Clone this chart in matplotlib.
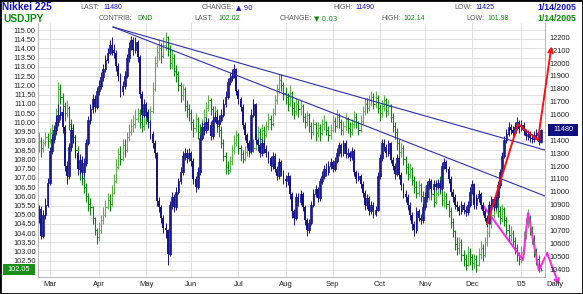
import numpy as np
import pandas as pd
import matplotlib
matplotlib.use('Agg')
import matplotlib.pyplot as plt
from matplotlib.patches import Rectangle
from matplotlib.transforms import ScaledTranslation

plt.rcParams['font.family'] = ['Liberation Sans', 'DejaVu Sans']

# ---- USD/JPY daily bars (left scale), 2004-02-23 .. 2005-01-14 ----
jpy_open0 = 108.8
jpy_close = [
    109.0, 108.6, 108.9, 109.2, 109.0, 109.4, 109.6, 109.3, 110.6, 111.8,
    111.4, 110.9, 110.5, 110.8, 109.9, 109.7, 109.2, 108.5, 107.9, 107.3,
    107.0, 106.5, 106.0, 105.6, 105.4, 104.8, 104.2, 103.8, 104.2, 104.7,
    105.0, 105.4, 105.8, 105.6, 106.2, 106.8, 107.6, 108.3, 108.0, 108.8,
    108.5, 109.2, 109.5, 109.8, 109.9, 110.2, 110.5, 110.0, 109.8, 110.4,
    110.3, 110.0, 110.6, 111.8, 113.2, 113.8, 114.0, 113.6, 114.2, 114.6,
    114.0, 113.2, 113.5, 112.8, 112.6, 112.0, 111.5, 111.8, 110.9, 110.7,
    110.5, 110.0, 109.7, 110.2, 109.5, 109.4, 109.9, 110.3, 110.8, 111.2,
    110.7, 110.2, 110.6, 109.8, 109.6, 108.9, 108.2, 107.6, 107.4, 107.9,
    108.5, 108.9, 109.3, 108.6, 108.3, 108.0, 108.4, 108.7, 108.4, 108.9,
    108.6, 109.0, 109.5, 109.1, 109.6, 109.3, 109.8, 110.2, 109.9, 110.5,
    111.2, 111.8, 112.3, 112.0, 111.6, 111.4, 111.0, 111.6, 110.8, 110.6,
    111.0, 110.7, 110.9, 110.3, 110.0, 110.4, 109.8, 109.5, 109.9, 109.4,
    109.7, 109.4, 109.9, 110.0, 109.6, 109.3, 109.6, 110.1, 109.8, 110.3,
    110.0, 109.6, 109.8, 110.2, 109.7, 109.5, 109.9, 110.3, 110.0, 109.6,
    110.1, 110.6, 111.0, 110.8, 111.2, 111.4, 111.0, 111.3, 110.8, 110.5,
    110.9, 111.2, 110.6, 110.9, 110.3, 109.8, 109.5, 108.9, 108.4, 108.6,
    108.0, 107.6, 107.2, 107.5, 106.9, 106.5, 106.2, 106.6, 106.0, 105.8,
    106.3, 106.0, 106.5, 106.1, 105.7, 106.2, 106.6, 106.4, 105.8, 106.0,
    105.6, 105.2, 104.6, 104.1, 103.4, 103.2, 103.5, 102.8, 102.6, 102.3,
    103.0, 102.7, 102.4, 102.6, 102.3, 102.9, 103.2, 102.8, 103.5, 104.0,
    104.5, 105.0, 105.4, 105.8, 105.2, 104.8, 105.3, 104.7, 104.2, 103.9,
    104.0, 103.6, 103.2, 102.8, 102.6, 103.0, 103.8, 104.5, 104.8, 104.2,
    103.7, 103.0, 102.6, 102.1, 102.02]
jpy_high = [
    109.5, 109.2, 109.1, 109.5, 109.4, 109.7, 109.9, 109.8, 110.8, 112.2,
    112.1, 111.6, 111.1, 111.2, 110.9, 110.2, 109.9, 109.3, 108.7, 108.1,
    107.5, 107.2, 106.7, 106.2, 105.9, 105.5, 104.9, 104.3, 104.6, 105.0,
    105.4, 105.8, 106.2, 106.1, 106.6, 107.2, 108.0, 108.6, 108.7, 109.1,
    109.1, 109.5, 109.9, 110.2, 110.4, 110.7, 110.8, 110.7, 110.3, 110.6,
    110.8, 110.6, 110.9, 112.2, 113.6, 114.2, 114.5, 114.3, 114.6, 114.9,
    114.7, 114.2, 113.9, 113.7, 113.1, 112.8, 112.2, 112.1, 111.9, 111.2,
    111.0, 110.7, 110.2, 110.5, 110.3, 109.9, 110.2, 110.7, 111.1, 111.5,
    111.3, 110.9, 110.9, 110.7, 110.1, 109.8, 109.1, 108.4, 107.9, 108.2,
    108.8, 109.3, 109.6, 109.4, 108.8, 108.5, 108.7, 109.0, 108.9, 109.2,
    109.1, 109.3, 109.8, 109.7, 109.9, 109.8, 110.1, 110.5, 110.4, 110.8,
    111.5, 112.1, 112.6, 112.6, 112.2, 111.9, 111.6, 112.0, 111.7, 111.1,
    111.3, 111.2, 111.2, 111.0, 110.5, 110.6, 110.5, 110.0, 110.2, 110.0,
    110.0, 109.9, 110.2, 110.4, 110.1, 109.8, 109.9, 110.4, 110.3, 110.7,
    110.5, 110.2, 110.1, 110.5, 110.3, 110.0, 110.2, 110.6, 110.5, 110.1,
    110.4, 110.9, 111.3, 111.3, 111.5, 111.7, 111.6, 111.7, 111.5, 111.0,
    111.2, 111.5, 111.3, 111.2, 111.0, 110.5, 110.0, 109.7, 109.1, 108.9,
    108.8, 108.2, 107.8, 107.8, 107.6, 107.1, 106.8, 106.9, 106.7, 106.3,
    106.6, 106.5, 106.8, 106.7, 106.3, 106.5, 106.9, 107.1, 106.6, 106.3,
    106.2, 105.8, 105.4, 104.8, 104.2, 103.8, 103.8, 103.7, 103.1, 102.9,
    103.3, 103.2, 102.9, 102.9, 102.8, 103.2, 103.6, 103.4, 103.8, 104.3,
    104.8, 105.3, 105.7, 106.2, 106.0, 105.5, 105.6, 105.4, 104.9, 104.5,
    104.4, 104.2, 103.8, 103.4, 103.0, 103.3, 104.1, 104.8, 105.3, 105.0,
    104.4, 103.9, 103.2, 102.8, 102.14]
jpy_low = [
    108.4, 108.1, 108.4, 108.7, 108.6, 108.9, 109.1, 109.0, 109.3, 110.5,
    111.0, 110.6, 110.1, 110.3, 109.6, 109.3, 108.9, 108.2, 107.6, 106.9,
    106.6, 106.2, 105.7, 105.2, 105.0, 104.5, 103.9, 103.4, 103.6, 104.0,
    104.5, 104.9, 105.3, 105.2, 105.5, 106.1, 106.7, 107.5, 107.7, 107.9,
    108.1, 108.4, 109.0, 109.3, 109.5, 109.7, 110.0, 109.7, 109.5, 109.6,
    109.9, 109.7, 109.9, 110.5, 111.7, 113.0, 113.4, 113.2, 113.5, 113.9,
    113.6, 112.9, 112.9, 112.5, 112.2, 111.7, 111.1, 111.2, 110.6, 110.3,
    110.1, 109.6, 109.2, 109.5, 109.1, 109.0, 109.2, 109.7, 110.1, 110.6,
    110.4, 109.9, 110.0, 109.5, 109.2, 108.6, 107.9, 107.2, 107.2, 107.3,
    107.7, 108.3, 108.7, 108.3, 107.9, 107.8, 107.9, 108.2, 108.1, 108.3,
    108.4, 108.5, 108.9, 108.8, 109.0, 109.0, 109.2, 109.6, 109.6, 109.8,
    110.4, 111.0, 111.6, 111.7, 111.2, 111.0, 110.6, 110.9, 110.4, 110.2,
    110.4, 110.3, 110.4, 110.0, 109.7, 109.8, 109.5, 109.1, 109.3, 109.0,
    109.2, 109.0, 109.3, 109.6, 109.3, 109.0, 109.1, 109.5, 109.5, 109.7,
    109.7, 109.3, 109.3, 109.6, 109.4, 109.2, 109.3, 109.7, 109.7, 109.3,
    109.5, 109.9, 110.4, 110.5, 110.6, 110.9, 110.7, 110.8, 110.5, 110.1,
    110.3, 110.6, 110.3, 110.4, 110.0, 109.5, 109.1, 108.5, 108.0, 108.1,
    107.7, 107.2, 106.9, 107.0, 106.6, 106.2, 105.9, 106.0, 105.7, 105.5,
    105.6, 105.7, 105.8, 105.8, 105.4, 105.6, 106.0, 106.1, 105.5, 105.4,
    105.3, 104.9, 104.3, 103.8, 103.1, 102.8, 102.9, 102.5, 102.2, 102.0,
    102.2, 102.3, 102.0, 102.1, 101.9, 102.2, 102.6, 102.5, 102.7, 103.3,
    103.8, 104.3, 104.8, 105.1, 104.9, 104.5, 104.6, 104.4, 103.9, 103.6,
    103.6, 103.3, 102.9, 102.5, 102.3, 102.4, 102.9, 103.7, 104.3, 103.9,
    103.4, 102.7, 102.3, 101.9, 101.98]

# ---- Nikkei 225 daily candles (right scale) ----
nk_open0 = 10800
nk_close = [
    10870, 10660, 10820, 10900, 11070, 11320, 11410, 11480, 11540, 11600,
    11620, 11500, 11200, 11120, 11350, 11480, 11420, 11300, 11180, 11250,
    11150, 11220, 11380, 11560, 11640, 11720, 11660, 11780, 11820, 11890,
    11950, 12020, 12080, 12140, 12100, 12080, 11980, 11900, 11780, 11820,
    11900, 12040, 12120, 12180, 12100, 12160, 12050, 11760, 11600, 11680,
    11620, 11540, 11450, 11380, 11300, 10930, 10880, 10800, 10720, 10700,
    10520, 10900, 10960, 10880, 11000, 11080, 11150, 11280, 11300, 11260,
    11300, 11240, 11100, 11040, 11150, 11420, 11500, 11480, 11540, 11520,
    11430, 11560, 11580, 11530, 11560, 11600, 11680, 11740, 11850, 11880,
    11900, 11950, 11780, 11720, 11660, 11520, 11440, 11380, 11320, 11600,
    11680, 11400, 11360, 11300, 11380, 11330, 11300, 11260, 11200, 11280,
    11180, 11120, 11230, 11150, 11100, 11080, 11120, 10980, 10850, 10800,
    10960, 10920, 10980, 10880, 10780, 10700, 10760, 10900, 10980, 11020,
    10950, 11080, 11120, 11180, 11150, 11200, 11230, 11180, 11240, 11300,
    11360, 11300, 11380, 11290, 11300, 11270, 11320, 11150, 11100, 11120,
    11060, 10990, 10900, 10950, 10850, 10900, 10830, 10860, 11120, 11260,
    11380, 11350, 11300, 11380, 11250, 11200, 11140, 11260, 11130, 11050,
    10980, 10960, 10900, 10820, 10750, 10700, 10850, 10800, 10780, 10880,
    10960, 11050, 11080, 11020, 11060, 11040, 11070, 11030, 11200, 11230,
    11180, 11100, 11000, 10960, 10900, 10880, 10850, 10900, 10860, 10840,
    10900, 11000, 11060, 10900, 10950, 10980, 10900, 10850, 10800, 10760,
    10900, 10940, 10880, 10960, 11050, 11150, 11280, 11400, 11450, 11500,
    11480, 11460, 11500, 11540, 11490, 11520, 11470, 11430, 11450, 11420,
    11410, 11440, 11460, 11390, 11480]
nk_high = [
    10900, 10890, 10860, 10950, 11110, 11350, 11450, 11520, 11600, 11680,
    11670, 11650, 11520, 11240, 11380, 11520, 11530, 11440, 11320, 11290,
    11280, 11260, 11410, 11590, 11680, 11760, 11750, 11810, 11870, 11930,
    11990, 12060, 12120, 12180, 12200, 12150, 12100, 12000, 11920, 11860,
    11940, 12070, 12160, 12210, 12200, 12200, 12180, 12060, 11780, 11720,
    11700, 11640, 11560, 11470, 11400, 11310, 10960, 10900, 10820, 10760,
    10710, 10930, 11000, 10980, 11040, 11110, 11190, 11320, 11340, 11330,
    11340, 11320, 11260, 11120, 11190, 11450, 11540, 11540, 11580, 11570,
    11550, 11590, 11620, 11610, 11600, 11640, 11720, 11780, 11880, 11920,
    11950, 11990, 11960, 11800, 11740, 11680, 11540, 11460, 11400, 11640,
    11720, 11690, 11420, 11380, 11410, 11400, 11360, 11320, 11280, 11310,
    11300, 11200, 11260, 11250, 11170, 11130, 11150, 11130, 11000, 10870,
    10990, 10990, 11010, 11000, 10900, 10800, 10790, 10930, 11020, 11050,
    11040, 11110, 11160, 11210, 11220, 11240, 11260, 11250, 11270, 11340,
    11390, 11380, 11400, 11400, 11340, 11320, 11350, 11330, 11170, 11150,
    11140, 11080, 11010, 10980, 10970, 10930, 10920, 10890, 11150, 11290,
    11410, 11410, 11370, 11400, 11390, 11270, 11220, 11290, 11270, 11150,
    11070, 11010, 10980, 10920, 10840, 10770, 10880, 10870, 10830, 10910,
    11000, 11080, 11110, 11100, 11090, 11090, 11100, 11090, 11230, 11260,
    11250, 11200, 11120, 11020, 10980, 10930, 10900, 10930, 10920, 10890,
    10930, 11040, 11090, 11070, 10980, 11010, 11000, 10920, 10870, 10820,
    10930, 10970, 10960, 10990, 11080, 11180, 11310, 11430, 11490, 11540,
    11530, 11510, 11540, 11580, 11560, 11560, 11540, 11490, 11480, 11470,
    11450, 11470, 11490, 11480, 11490]
nk_low = [
    10760, 10630, 10640, 10790, 10880, 11050, 11290, 11380, 11450, 11510,
    11560, 11460, 11160, 11060, 11100, 11320, 11380, 11260, 11130, 11140,
    11100, 11120, 11200, 11360, 11530, 11610, 11620, 11640, 11750, 11800,
    11860, 11930, 12000, 12060, 12060, 12040, 11940, 11860, 11740, 11750,
    11800, 11880, 12010, 12100, 12060, 12080, 12010, 11730, 11560, 11580,
    11580, 11500, 11410, 11340, 11260, 10890, 10840, 10760, 10680, 10640,
    10430, 10500, 10870, 10840, 10860, 10980, 11060, 11130, 11250, 11220,
    11240, 11200, 11060, 11000, 11020, 11130, 11400, 11440, 11460, 11480,
    11400, 11410, 11540, 11500, 11510, 11540, 11580, 11660, 11720, 11830,
    11860, 11880, 11750, 11680, 11630, 11490, 11400, 11340, 11290, 11300,
    11580, 11370, 11320, 11270, 11280, 11300, 11270, 11220, 11160, 11180,
    11150, 11090, 11100, 11120, 11060, 11040, 11050, 10940, 10800, 10740,
    10780, 10890, 10900, 10850, 10740, 10660, 10680, 10740, 10880, 10960,
    10920, 10930, 11060, 11100, 11120, 11130, 11180, 11150, 11160, 11220,
    11280, 11270, 11280, 11260, 11260, 11240, 11250, 11120, 11070, 11080,
    11030, 10960, 10860, 10870, 10820, 10830, 10800, 10810, 10850, 11100,
    11240, 11320, 11270, 11280, 11220, 11170, 11100, 11120, 11100, 11010,
    10950, 10920, 10860, 10780, 10700, 10660, 10680, 10770, 10750, 10760,
    10860, 10940, 11020, 10990, 11000, 11010, 11020, 11000, 11010, 11180,
    11150, 11070, 10970, 10920, 10870, 10850, 10820, 10830, 10830, 10810,
    10820, 10880, 10980, 10870, 10870, 10920, 10870, 10820, 10770, 10730,
    10750, 10880, 10850, 10860, 10940, 11030, 11130, 11260, 11380, 11430,
    11450, 11430, 11440, 11480, 11460, 11470, 11440, 11400, 11400, 11390,
    11380, 11390, 11420, 11360, 11380]

# trend lines drawn on the Nikkei scale (bar index, value)
trend_upper_x = [34.5, 236.0]
trend_upper_y = [12280, 11324]
trend_lower_x = [34.5, 236.0]
trend_lower_y = [12280, 10967]
# red projection on Nikkei, magenta projection on USD/JPY
red_x = [209.0, 223.4, 232.7, 239.0]
red_y = [10749, 11526, 11402, 12130]
mag_x = [207.6, 225.7, 228.1, 233.1, 237.0, 242.5]
mag_y = [105.42, 102.55, 105.10, 102.00, 102.93, 101.20]

month_labels = ['Mar', 'Apr', 'May', 'Jun', 'Jul', 'Aug', 'Sep', 'Oct', 'Nov', 'Dec', "'05"]
jpy_ticks = np.arange(102.0, 115.01, 0.5)
nk_ticks = np.arange(10400, 12201, 100)

navy = '#14148c'
line_blue = '#2e2ea8'
green_dk = '#0b850b'
green_lt = '#5cb04a'
grid_c = '#dcdcdc'

dates = pd.bdate_range('2004-02-23', '2005-01-14')
x = np.arange(len(dates))
month_pos = [i for i in range(1, len(dates)) if dates[i].month != dates[i - 1].month]

W, H = 583, 294
fig = plt.figure(figsize=(W / 100, H / 100), dpi=100)
fig.patch.set_facecolor('white')
ax = fig.add_axes([38 / W, 1 - 277 / H, (545 - 38) / W, (277 - 23) / H])
ax2 = ax.twinx()

# USD/JPY OHLC bars
jc = np.array(jpy_close)
jo = np.r_[jpy_open0, jc[:-1]]
jcol = np.where(jc >= jo, green_lt, green_dk)
ax.vlines(x, jpy_low, jpy_high, colors=jcol, lw=0.8)
ax.hlines(jo, x - 0.5, x, colors=jcol, lw=0.8)
ax.hlines(jc, x, x + 0.5, colors=jcol, lw=0.8)

# Nikkei candles
nc = np.array(nk_close)
no = np.r_[nk_open0, nc[:-1]]
down = nc < no
ax2.vlines(x, nk_low, nk_high, colors=navy, lw=0.7)
ax2.bar(x[down], (no - nc)[down], bottom=nc[down], width=0.85, color=navy, linewidth=0)
ax2.bar(x[~down], (nc - no)[~down], bottom=no[~down], width=0.8,
        facecolor='white', edgecolor=navy, linewidth=0.6)

ax2.plot(trend_upper_x, trend_upper_y, color=line_blue, lw=0.8)
ax2.plot(trend_lower_x, trend_lower_y, color=line_blue, lw=0.8)

ax2.plot(red_x[:-1], red_y[:-1], color='#ff1010', lw=1.4)
ax2.annotate('', xy=(red_x[-1], red_y[-1]), xytext=(red_x[-2], red_y[-2]),
             arrowprops=dict(arrowstyle='->', color='#ff1010', lw=1.4, mutation_scale=8,
                             shrinkA=0, shrinkB=0), annotation_clip=False)
ax.plot(mag_x[:-1], mag_y[:-1], color='#ff22ee', lw=1.4, clip_on=False)
ax.annotate('', xy=(mag_x[-1], mag_y[-1]), xytext=(mag_x[-2], mag_y[-2]),
            arrowprops=dict(arrowstyle='->', color='#ff22ee', lw=1.4, mutation_scale=8,
                            shrinkA=0, shrinkB=0), annotation_clip=False)

# axes scales
ax.set_xlim(-0.47, 236.0)
ax.set_ylim(101.63, 115.38)
ax2.set_ylim(10338, 12311)

ax.set_yticks(jpy_ticks)
ax.set_yticklabels(['' if abs(v - 102.0) < 1e-6 else f'{v:.2f}' for v in jpy_ticks])
ax2.set_yticks(nk_ticks)
ax2.set_yticklabels(['' if v == 11500 else f'{v}' for v in nk_ticks])
ax.set_xticks(month_pos)
ax.set_xticklabels(month_labels)
for lab in ax.get_xticklabels():
    lab.set_transform(lab.get_transform() + ScaledTranslation(-2 / 100, 0, fig.dpi_scale_trans))

ax.tick_params(axis='y', length=0, pad=1.5, labelsize=5.3, labelcolor='#222222')
ax2.tick_params(axis='y', length=0, pad=3, labelsize=5.3, labelcolor='#222222')
ax.tick_params(axis='x', length=0, pad=3, labelsize=5.5, labelcolor='#222222')

ax.grid(True, color=grid_c, lw=0.6)
ax.set_axisbelow(True)
for a in (ax, ax2):
    for s in a.spines.values():
        s.set_color('#b8b8b8')
        s.set_linewidth(0.6)
    a.spines['top'].set_visible(False)

# current value boxes
ax.text(-19 / 507, 102.05, '102.05', transform=ax.get_yaxis_transform(), ha='center', va='center',
        fontsize=5.3, color='white',
        bbox=dict(boxstyle='square,pad=0.3', fc='#1a8f1a', ec='none'))
ax.text(-19 / 507, 102.05, ' ' * 14, transform=ax.get_yaxis_transform(), ha='center', va='center',
        fontsize=5.3, zorder=0, bbox=dict(boxstyle='square,pad=0.3', fc='#1a8f1a', ec='none'))
ax2.text(1 + 18 / 507, 11480, ' ' * 13, transform=ax2.get_yaxis_transform(), ha='center', va='center',
         fontsize=5.3, bbox=dict(boxstyle='square,pad=0.3', fc='#101080', ec='none'))
ax2.text(1 + 18 / 507, 11480, '11480', transform=ax2.get_yaxis_transform(), ha='center', va='center',
         fontsize=5.3, color='white')

# header
def ftxt(px, py, s, **kw):
    fig.text(px / W, 1 - py / H, s, va='center', **kw)

blue_h = '#1010d0'
green_h = '#0a8a0a'
lab_c = '#555555'
ftxt(2, 7.5, 'Nikkei 225', color=blue_h, fontsize=7.3, fontweight='bold')
ftxt(80, 7.5, 'LAST:', color=lab_c, fontsize=5)
ftxt(103, 7.5, '11480', color=blue_h, fontsize=5)
ftxt(202, 7.5, 'CHANGE:', color=lab_c, fontsize=5)
ftxt(236, 7.5, '▲ 90', color=blue_h, fontsize=5, family=['DejaVu Sans'])
ftxt(333, 7.5, 'HIGH:', color=lab_c, fontsize=5)
ftxt(355, 7.5, '11490', color=blue_h, fontsize=5)
ftxt(454, 7.5, 'LOW:', color=lab_c, fontsize=5)
ftxt(475, 7.5, '11425', color=blue_h, fontsize=5)
ftxt(576, 7.5, '1/14/2005', color=blue_h, fontsize=6.3, fontweight='bold', ha='right')

ftxt(3, 18.5, 'USDJPY', color=green_h, fontsize=7.3, fontweight='bold')
ftxt(99, 18.5, 'CONTRIB:', color=lab_c, fontsize=5)
ftxt(137, 18.5, 'DND', color=green_h, fontsize=5)
ftxt(194, 18.5, 'LAST:', color=lab_c, fontsize=5)
ftxt(218, 18.5, '102.02', color=green_h, fontsize=5)
ftxt(280, 18.5, 'CHANGE:', color=lab_c, fontsize=5)
ftxt(314, 18.5, '▼ 0.03', color=green_h, fontsize=5, family=['DejaVu Sans'])
ftxt(381, 18.5, 'HIGH:', color=lab_c, fontsize=5)
ftxt(403, 18.5, '102.14', color=green_h, fontsize=5)
ftxt(466, 18.5, 'LOW:', color=lab_c, fontsize=5)
ftxt(487, 18.5, '101.98', color=green_h, fontsize=5)
ftxt(576, 18.5, '1/14/2005', color=green_h, fontsize=6.3, fontweight='bold', ha='right')

ftxt(555, 285, 'Daily', color='#222222', fontsize=5.5, ha='center')

fig.add_artist(Rectangle((0, 0), 1, 1, transform=fig.transFigure, fill=False,
                         edgecolor='black', linewidth=2))

fig.savefig('out.png', dpi=100, facecolor='white')
